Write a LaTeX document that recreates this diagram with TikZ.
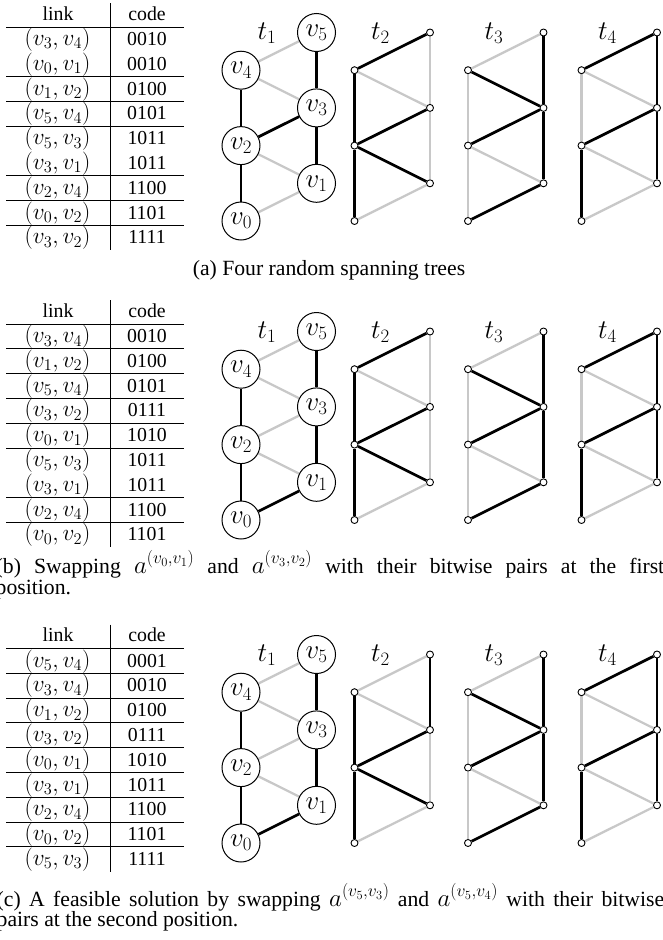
\RequirePackage{fix-cm}
\documentclass[tikz,border=0pt]{standalone}
\usepackage[no-math]{fontspec}
\setmainfont{Liberation Serif}
\usetikzlibrary{backgrounds}
\definecolor{lg}{RGB}{200,200,200}
\newcommand{\capmath}[1]{{\fontsize{25}{21}\selectfont$#1$}}
\tikzset{
  bignode/.style={circle,draw,line width=1pt,minimum size=38pt,inner sep=0pt,fill=white,font=\fontsize{27}{30}\selectfont},
  dot/.style={circle,draw,line width=0.9pt,fill=white,minimum size=7pt,inner sep=0pt},
  e1/.style={line width=2.7pt,black},
  e0/.style={line width=2.3pt,lg},
  tlabel/.style={font=\fontsize{27}{30}\selectfont,inner sep=0pt},
  rulel/.style={line width=1pt},
  tabtext/.style={font=\fontsize{19.8}{24}\selectfont,anchor=base,inner sep=0pt},
  tabmath/.style={font=\fontsize{23.3}{28}\selectfont,anchor=base,inner sep=0pt},
  captext/.style={font=\fontsize{21.7}{21}\selectfont,anchor=base,inner sep=0pt},
  capbox/.style={anchor=base west,inner sep=0pt},
}
% edges: u/w/bit t1/bit t2/bit t3/bit t4
\def\edgesA{3/4/0/0/1/0,0/1/0/0/1/0,1/2/0/1/0/0,5/4/0/1/0/1,5/3/1/0/1/1,3/1/1/0/1/1,2/4/1/1/0/0,0/2/1/1/0/1,3/2/1/1/1/1}
\def\edgesB{3/4/0/0/1/0,1/2/0/1/0/0,5/4/0/1/0/1,3/2/0/1/1/1,0/1/1/0/1/0,5/3/1/0/1/1,3/1/1/0/1/1,2/4/1/1/0/0,0/2/1/1/0/1}
\def\edgesC{5/4/0/0/0/1,3/4/0/0/1/0,1/2/0/1/0/0,3/2/0/1/1/1,0/1/1/0/1/0,3/1/1/0/1/1,2/4/1/1/0/0,0/2/1/1/0/1,5/3/1/1/1/1}
% rows: k/a/b/code/line above
\def\rowsA{1/3/4/0010/0,2/0/1/0010/0,3/1/2/0100/1,4/5/4/0101/1,5/5/3/1011/1,6/3/1/1011/0,7/2/4/1100/1,8/0/2/1101/1,9/3/2/1111/1}
\def\rowsB{1/3/4/0010/0,2/1/2/0100/1,3/5/4/0101/1,4/3/2/0111/1,5/0/1/1010/1,6/5/3/1011/1,7/3/1/1011/0,8/2/4/1100/1,9/0/2/1101/1}
\def\rowsC{1/5/4/0001/0,2/3/4/0010/1,3/1/2/0100/1,4/3/2/0111/1,5/0/1/1010/1,6/3/1/1011/1,7/2/4/1100/1,8/0/2/1101/1,9/5/3/1111/1}
\newcommand{\drawpanel}[5]{%
  \foreach \tr/\lx in {1/241,2/354.5,3/468,4/581.5}{%
    \foreach \k in {0,...,5}{%
      \pgfmathsetmacro{\xx}{\lx+75.5*mod(\k,2)}%
      \pgfmathsetmacro{\yy}{#2+221-37.7*\k}%
      \ifnum\tr=1
        \node[bignode] (#1-t\tr-v\k) at (\xx,\yy) {$v_{\k}$};
      \else
        \node[dot] (#1-t\tr-v\k) at (\xx,\yy) {};
      \fi
    }%
    \node[tlabel] (#1-lab\tr) at (\lx+26,#2+33) {$t_{\tr}$};
  }%
  \begin{scope}[on background layer]
    \foreach \u/\w/\ba/\bb/\bc/\bd in #4{%
      \draw[e\ba] (#1-t1-v\u) -- (#1-t1-v\w);
      \draw[e\bb] (#1-t2-v\u) -- (#1-t2-v\w);
      \draw[e\bc] (#1-t3-v\u) -- (#1-t3-v\w);
      \draw[e\bd] (#1-t4-v\u) -- (#1-t4-v\w);
    }%
  \end{scope}
  \node[tabtext] (#1-hl) at (58,#3+20) {link};
  \node[tabtext] (#1-hc) at (147,#3+20) {code};
  \draw[rulel] (6,#3+27) -- (184,#3+27);
  \draw[rulel] (110,#3+3) -- (110,#3+250);
  \foreach \k/\a/\b/\cd/\ln in #5{%
    \node[tabmath] (#1-r\k) at (57.5,#3+27+24.8*\k-6.3) {$(v_{\a},v_{\b})$};
    \node[tabtext] (#1-c\k) at (147,#3+27+24.8*\k-6.3) {\cd};
    \ifnum\ln=1 \draw[rulel] (6,#3+2.2+24.8*\k) -- (184,#3+2.2+24.8*\k);\fi
  }%
}
\begin{document}
\begin{tikzpicture}[x=1pt,y=-1pt]
\useasboundingbox (0,0) rectangle (663,940);
\drawpanel{a}{0}{0}{\edgesA}{\rowsA}
\drawpanel{b}{299}{297}{\edgesB}{\rowsB}
\drawpanel{c}{622}{621.5}{\edgesC}{\rowsC}
\node[captext] (capa) at (329,275) {(a) Four random spanning trees};
\node[capbox] (capb) at (-4.5,573) {\parbox[t]{668.5pt}{\fontsize{21.7}{21}\selectfont (b) Swapping \capmath{a^{(v_0,v_1)}} and \capmath{a^{(v_3,v_2)}} with their bitwise pairs at the first\linebreak position.}};
\node[capbox] (capc) at (-3.5,906) {\parbox[t]{667.5pt}{\fontsize{21.7}{20.5}\selectfont (c) A feasible solution by swapping \capmath{a^{(v_5,v_3)}} and \capmath{a^{(v_5,v_4)}} with their bitwise\linebreak pairs at the second position.}};
\end{tikzpicture}
\end{document}
